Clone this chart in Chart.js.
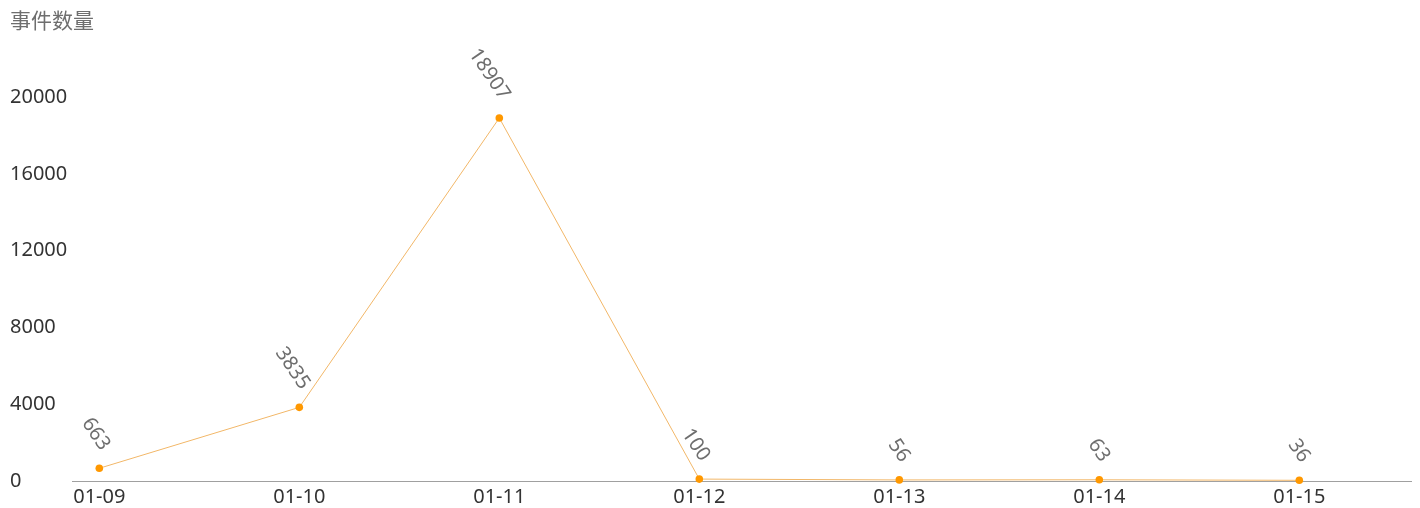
<!DOCTYPE html>
<html>
<head>
<meta charset="utf-8">
<style>
  html, body { margin: 0; padding: 0; background: #ffffff; }
  #wrap { width: 1420px; height: 508px; position: relative; }
</style>
<script src="https://cdn.jsdelivr.net/npm/chart.js@4.4.1/dist/chart.umd.min.js"></script>
</head>
<body>
<div id="wrap"><canvas id="chart" width="1420" height="508"></canvas></div>
<script>
// Daily event counts
const categories = ['01-09', '01-10', '01-11', '01-12', '01-13', '01-14', '01-15'];
const eventCounts = [663, 3835, 18907, 100, 56, 63, 36];
const yTickValues = [0, 4000, 8000, 12000, 16000, 20000];
const axisTitle = '事件数量';

const FONT = '"Noto Sans", "Noto Sans CJK SC", sans-serif';

// Axis title drawn in the top-left corner
const axisTitlePlugin = {
  id: 'axisTitle',
  afterDraw(chart) {
    const ctx = chart.ctx;
    ctx.save();
    ctx.font = '21px ' + FONT;
    ctx.fillStyle = '#6e6e6e';
    ctx.textAlign = 'left';
    ctx.textBaseline = 'middle';
    ctx.fillText(axisTitle, 10, 22);
    ctx.restore();
  }
};

// Rotated value labels above each point
const valueLabelPlugin = {
  id: 'valueLabels',
  afterDatasetsDraw(chart) {
    const ctx = chart.ctx;
    const meta = chart.getDatasetMeta(0);
    ctx.save();
    ctx.font = '20px ' + FONT;
    ctx.fillStyle = '#6e6e6e';
    ctx.textAlign = 'right';
    ctx.textBaseline = 'middle';
    meta.data.forEach((pt, i) => {
      ctx.save();
      ctx.translate(pt.x + 6, pt.y - 20);
      ctx.rotate(56 * Math.PI / 180);
      ctx.fillText(String(eventCounts[i]), 0, 0);
      ctx.restore();
    });
    ctx.restore();
  }
};

const points = eventCounts.map((v, i) => ({ x: i, y: v }));

new Chart(document.getElementById('chart'), {
  type: 'line',
  data: {
    datasets: [{
      data: points,
      borderColor: '#f2b768',
      borderWidth: 1,
      backgroundColor: '#ff9800',
      pointBackgroundColor: '#ff9800',
      pointBorderColor: '#ff9800',
      pointBorderWidth: 0,
      pointRadius: 3.8,
      tension: 0,
      fill: false,
      clip: false
    }]
  },
  options: {
    responsive: false,
    animation: false,
    layout: { padding: { left: 10, right: 9, top: 97, bottom: 0 } },
    plugins: {
      legend: { display: false },
      tooltip: { enabled: false },
      title: { display: false }
    },
    scales: {
      x: {
        type: 'linear',
        min: -0.1365,
        max: 6.5585,
        afterBuildTicks(axis) {
          axis.ticks = categories.map((_, i) => ({ value: i }));
        },
        afterFit(axis) { axis.height = 27; },
        grid: { display: false, drawTicks: false },
        border: { display: true, color: '#a0a0a0', width: 1 },
        ticks: {
          autoSkip: false,
          maxRotation: 0,
          padding: 4,
          color: '#333333',
          font: { family: FONT, size: 20 },
          callback: (v) => categories[v] ?? ''
        }
      },
      y: {
        min: 0,
        max: 20000,
        afterBuildTicks(axis) {
          axis.ticks = yTickValues.map(v => ({ value: v }));
        },
        afterFit(axis) { axis.width = 62; },
        grid: { display: false, drawTicks: false },
        border: { display: false },
        ticks: {
          crossAlign: 'far',
          padding: 4,
          color: '#333333',
          font: { family: FONT, size: 20 },
          callback: (v) => String(v)
        }
      }
    }
  },
  plugins: [axisTitlePlugin, valueLabelPlugin]
});
</script>
</body>
</html>
